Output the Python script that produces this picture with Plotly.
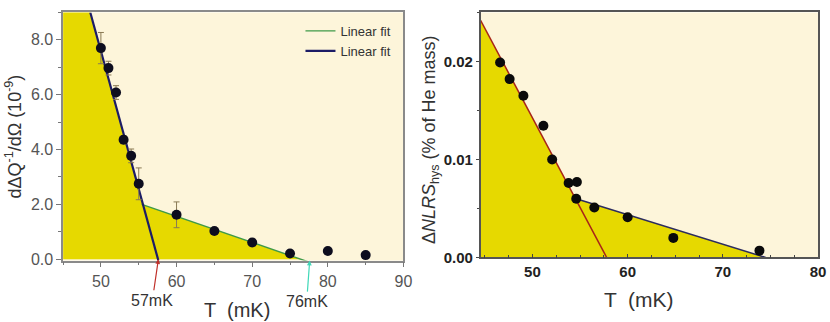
import plotly.graph_objects as go

# ---- left panel: dDQ^-1/dOmega vs T ----
T_left = [50, 51, 52, 53, 54, 55, 60, 65, 70, 75, 80, 85]
y_left = [7.7, 6.97, 6.08, 4.36, 3.77, 2.75, 1.62, 1.03, 0.61, 0.21, 0.30, 0.15]
err_left = [0.57, 0.25, 0.25, 0.15, 0.25, 0.58, 0.47, 0.1, 0.12, 0.1, 0, 0]

# linear fits (end points)
fit_steep_T = [48.6, 57.6]
fit_steep_y = [9.0, -0.05]
fit_shallow_T = [55.4, 78.0]
fit_shallow_y = [2.0, -0.15]

# ---- right panel: DNLRS_hys vs T ----
T_right = [46.6, 47.6, 49.05, 51.15, 52.07, 53.8, 54.67, 54.6, 56.5, 60.0, 64.8, 73.85]
y_right = [0.0199, 0.0182, 0.0165, 0.01345, 0.0100, 0.0076, 0.0077, 0.0060, 0.0051, 0.0041, 0.0020, 0.0007]

fit_red_T = [44.55, 57.8]
fit_red_y = [0.0242, 0.0]
fit_navy_T = [54.6, 74.5]
fit_navy_y = [0.0060, 0.0]

XR_LEFT = [45, 90]
XR_RIGHT = [44.55, 80]

YELLOW = "#e6d900"
CREAM = "#fdf5da"

# the capture comes out slightly shrunk, so the page is drawn a bit larger;
# positions below are in the 830x322 picture and converted to paper fractions
W, H = 840, 329


def px(x):
    return x / 830


def py(y):
    return 1 - y / 322


def line_at(T, Y, t):
    return Y[0] + (Y[1] - Y[0]) * (t - T[0]) / (T[1] - T[0])


def slope(T, Y):
    return (Y[1] - Y[0]) / (T[1] - T[0])


def fill_outline(T1, Y1, T2, Y2, x0):
    # region under max(steep fit, shallow fit, 0)
    s1, s2 = slope(T1, Y1), slope(T2, Y2)
    ti = (Y2[0] - s2 * T2[0] - Y1[0] + s1 * T1[0]) / (s1 - s2)
    yi = line_at(T1, Y1, ti)
    tz = T2[0] - Y2[0] / s2
    return [x0, ti, tz], [line_at(T1, Y1, x0), yi, 0]


fig = go.Figure()

fx, fy = fill_outline(fit_steep_T, fit_steep_y, fit_shallow_T, fit_shallow_y, XR_LEFT[0])
fig.add_trace(go.Scatter(x=fx, y=fy, mode="lines", fill="tozeroy", fillcolor=YELLOW,
                         line=dict(width=0), showlegend=False, hoverinfo="skip",
                         xaxis="x", yaxis="y"))
fig.add_trace(go.Scatter(x=fit_shallow_T, y=fit_shallow_y, mode="lines", name="Linear fit",
                         line=dict(color="#3f9a48", width=1.4), xaxis="x", yaxis="y"))
fig.add_trace(go.Scatter(x=fit_steep_T, y=fit_steep_y, mode="lines", name="Linear fit",
                         line=dict(color="#1c1c66", width=2.2), xaxis="x", yaxis="y"))
fig.add_trace(go.Scatter(x=T_left, y=y_left, mode="markers", showlegend=False,
                         marker=dict(color="#0d0d1e", size=10),
                         error_y=dict(type="data", array=err_left, color="#8a7a55",
                                      thickness=1, width=3),
                         xaxis="x", yaxis="y"))

rx, ry = fill_outline(fit_red_T, fit_red_y, fit_navy_T, fit_navy_y, XR_RIGHT[0])
fig.add_trace(go.Scatter(x=rx, y=ry, mode="lines", fill="tozeroy", fillcolor=YELLOW,
                         line=dict(width=0), showlegend=False, hoverinfo="skip",
                         xaxis="x2", yaxis="y2"))
fig.add_trace(go.Scatter(x=fit_red_T, y=fit_red_y, mode="lines", showlegend=False,
                         line=dict(color="#a82418", width=1.5), xaxis="x2", yaxis="y2"))
fig.add_trace(go.Scatter(x=fit_navy_T, y=fit_navy_y, mode="lines", showlegend=False,
                         line=dict(color="#2c2c5e", width=1.5), xaxis="x2", yaxis="y2"))
fig.add_trace(go.Scatter(x=T_right, y=y_right, mode="markers", showlegend=False,
                         marker=dict(color="#0a0a0a", size=10), xaxis="x2", yaxis="y2"))

left_tick = dict(family="Arial, Liberation Sans", size=16, color="#555555")
right_tick = dict(family="Arial, Liberation Sans", size=15, color="#222222")

fig.update_layout(
    width=W, height=H,
    margin=dict(l=0, r=0, t=0, b=0),
    paper_bgcolor="white",
    plot_bgcolor=CREAM,
    font=dict(family="Arial, Liberation Sans", color="#333333"),
    xaxis=dict(domain=[px(63), px(403)], range=XR_LEFT, tickvals=[50, 60, 70, 80, 90],
               ticks="outside", ticklen=5, tickcolor="#777", showline=True, linecolor="#8a8a8a",
               linewidth=1.5, mirror=True, showgrid=False, zeroline=False, tickfont=left_tick,
               minor=dict(dtick=5, ticks="outside", ticklen=3, tickcolor="#777")),
    yaxis=dict(domain=[py(261.4), py(12.5)], range=[-0.05, 9.0],
               tickvals=[0, 2, 4, 6, 8], tickformat=".1f", ticks="outside", ticklen=5,
               tickcolor="#777", showline=True, linecolor="#8a8a8a", linewidth=1.5, mirror=True,
               showgrid=False, zeroline=False, tickfont=left_tick,
               minor=dict(dtick=1, ticks="outside", ticklen=3, tickcolor="#777")),
    xaxis2=dict(domain=[px(480), px(817)], range=XR_RIGHT, tickvals=[50, 60, 70, 80],
                ticks="inside", ticklen=4, tickcolor="#444", showline=True, linecolor="#555555",
                linewidth=1.5, mirror=True, showgrid=False, zeroline=False,
                tickfont=dict(right_tick, weight="bold"), anchor="y2",
                minor=dict(dtick=2.5, ticks="inside", ticklen=3, tickcolor="#444")),
    yaxis2=dict(domain=[py(258.3), py(12.5)], range=[0, 0.025],
                tickvals=[0, 0.01, 0.02], tickformat=".2f", ticks="outside", ticklen=3,
                tickcolor="#444", showline=True, linecolor="#555555", linewidth=1.5, mirror=True,
                showgrid=False, zeroline=False, tickfont=dict(right_tick, weight="bold"),
                anchor="x2", minor=dict(dtick=0.005, ticks="outside", ticklen=2, tickcolor="#444")),
    legend=dict(x=px(396), xanchor="right", y=py(16), yanchor="top",
                bgcolor="rgba(0,0,0,0)", font=dict(size=13, color="#333"),
                tracegroupgap=0, itemwidth=30),
)

ann_font = dict(family="Arial, Liberation Sans", size=16, color="#333333")
fig.add_annotation(x=57.6, y=0, xref="x", yref="y", text="57mK", showarrow=True,
                   ax=-6, ay=41, arrowcolor="#c0302a", arrowwidth=1.2, arrowhead=2,
                   arrowsize=0.8, font=ann_font)
fig.add_annotation(x=77.6, y=-0.05, xref="x", yref="y", text="76mK", showarrow=True,
                   ax=-3, ay=41, arrowcolor="#40d8b8", arrowwidth=1.2, arrowhead=2,
                   arrowsize=0.8, font=ann_font)

# axis titles
title_font = dict(family="Arial, Liberation Sans", color="#333")
fig.add_annotation(x=px(237), y=py(311), xref="paper", yref="paper",
                   xanchor="center", yanchor="middle", text="T  (mK)", showarrow=False,
                   font=dict(title_font, size=20))
fig.add_annotation(x=px(638), y=py(300), xref="paper", yref="paper",
                   xanchor="center", yanchor="middle", text="T  (mK)", showarrow=False,
                   font=dict(title_font, size=21))
fig.add_annotation(x=px(14), y=py(137), xref="paper", yref="paper", textangle=-90,
                   xanchor="center", yanchor="middle",
                   text="dΔQ<sup>-1</sup>/dΩ (10<sup>-9</sup>)", showarrow=False,
                   font=dict(title_font, size=18))
fig.add_annotation(x=px(430), y=py(140), xref="paper", yref="paper", textangle=-90,
                   xanchor="center", yanchor="middle",
                   text="Δ<i>NLRS</i><sub>hys</sub> (% of He mass)", showarrow=False,
                   font=dict(title_font, size=18))

page_fix = ("document.body.style.margin='0';"
            "document.body.style.overflow='hidden';"
            "document.documentElement.style.overflow='hidden';")
fig.write_html("out.html", post_script=page_fix, config={"displayModeBar": False})
